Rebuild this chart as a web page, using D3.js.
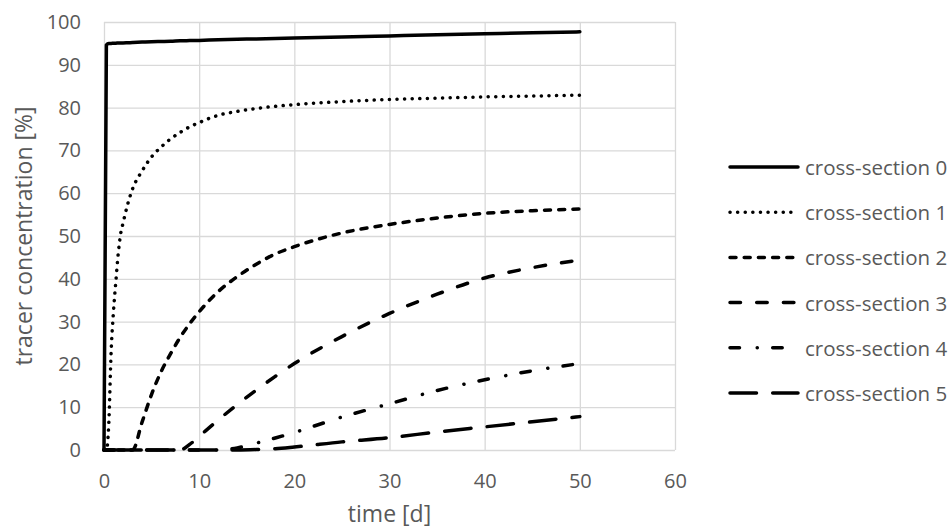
<!DOCTYPE html>
<html>
<head>
<meta charset="utf-8">
<script src="https://cdn.jsdelivr.net/npm/d3@7/dist/d3.min.js"></script>
<style>
body { margin: 0; background: #fff; }
text { font-family: "Open Sans", sans-serif; fill: #595959; }
</style>
</head>
<body>
<div id="chart"></div>
<script>
// time axis shared by all sections [d]
var times = [0, 0.25, 0.5, 0.75, 1, 1.25, 1.5, 1.75, 2, 2.5, 3, 4, 5, 6, 7, 8, 9, 10, 12, 14, 16, 18, 20, 25, 30, 35, 40, 45, 50];

// tracer concentration [%] per cross-section
var section0 = [0, 94.6, 95.0, 95.0, 95.05, 95.05, 95.1, 95.1, 95.1, 95.15, 95.2, 95.3, 95.4, 95.45, 95.5, 95.6, 95.65, 95.7, 95.85, 95.95, 96.05, 96.15, 96.25, 96.5, 96.75, 97.0, 97.25, 97.5, 97.7];
var section1 = [0, 0, 6, 23, 32.5, 39.5, 46, 50.5, 53, 57.5, 61, 65.2, 68.5, 70.8, 72.7, 74.2, 75.5, 76.5, 78.2, 79.1, 79.8, 80.3, 80.7, 81.4, 81.9, 82.2, 82.5, 82.7, 82.9];
var section2 = [0, 0, 0, 0, 0, 0, 0, 0, 0, 0, 0, 6.5, 13, 18.3, 22.5, 26.3, 29.5, 32.3, 37, 40.5, 43.4, 45.8, 47.5, 50.7, 52.7, 54.2, 55.3, 55.9, 56.3];
var section3 = [0, 0, 0, 0, 0, 0, 0, 0, 0, 0, 0, 0, 0, 0, 0, 0, 1.3, 3.2, 7, 10.6, 14, 17.2, 20.2, 26.5, 31.9, 36.4, 40.2, 42.6, 44.4];
var section4 = [0, 0, 0, 0, 0, 0, 0, 0, 0, 0, 0, 0, 0, 0, 0, 0, 0, 0, 0, 0.5, 1.6, 2.8, 4.1, 7.7, 10.8, 13.9, 16.4, 18.5, 20.2];
var section5 = [0, 0, 0, 0, 0, 0, 0, 0, 0, 0, 0, 0, 0, 0, 0, 0, 0, 0, 0, 0, 0.1, 0.3, 0.7, 1.9, 2.9, 4.2, 5.4, 6.6, 7.8];

var seriesNames = ["cross-section 0", "cross-section 1", "cross-section 2", "cross-section 3", "cross-section 4", "cross-section 5"];
var xTicks = [0, 10, 20, 30, 40, 50, 60];
var yTicks = [0, 10, 20, 30, 40, 50, 60, 70, 80, 90, 100];

// line styles, one per section (solid, round dot, dash, long dash, dash-dot, long dash)
var dashes = [null, "0.1 7.5", "6 8.2", "10.5 16.2", "9.5 17.7 0.1 15.4", "26.5 16.2"];

var allSections = [section0, section1, section2, section3, section4, section5];

var width = 952, height = 531;
var plotLeft = 104, plotRight = 675, plotTop = 22, plotBottom = 450;

var svg = d3.select("#chart").append("svg")
	.attr("width", width)
	.attr("height", height);

var x = d3.scaleLinear().domain([0, 60]).range([plotLeft, plotRight]);
var y = d3.scaleLinear().domain([0, 100]).range([plotBottom, plotTop]);

// gridlines + tick labels
var yAxis = svg.append("g")
	.attr("transform", "translate(" + plotLeft + ",0)")
	.call(d3.axisLeft(y).tickValues(yTicks).tickSize(-(plotRight - plotLeft)).tickPadding(23));

var xAxis = svg.append("g")
	.attr("transform", "translate(0," + plotBottom + ")")
	.call(d3.axisBottom(x).tickValues(xTicks).tickSize(-(plotBottom - plotTop)).tickPadding(24));

[xAxis, yAxis].forEach(function(ax) {
	ax.select(".domain").remove();
	ax.selectAll("line").attr("stroke", "#d9d9d9").attr("stroke-width", 1.3);
	ax.selectAll("text").attr("font-size", 20).style("fill", "#595959").attr("font-family", "Open Sans, sans-serif");
});

// the series
var line = d3.line()
	.x(function(d) { return x(d[0]); })
	.y(function(d) { return y(d[1]); })
	.curve(d3.curveMonotoneX);

for (var s = 0; s < allSections.length; s++) {
	var pts = times.map(function(t, i) { return [t, allSections[s][i]]; });
	var p = svg.append("path")
		.datum(pts)
		.attr("d", line)
		.attr("fill", "none")
		.attr("stroke", "#000")
		.attr("stroke-width", 3.5)
		.attr("stroke-linecap", "round")
		.attr("stroke-linejoin", "round");
	if (dashes[s]) p.attr("stroke-dasharray", dashes[s]);
}

// axis titles
svg.append("text")
	.attr("x", (x(0) + x(60)) / 2)
	.attr("y", 522)
	.attr("text-anchor", "middle")
	.attr("font-size", 23)
	.text("time [d]");

svg.append("text")
	.attr("transform", "translate(23," + ((plotTop + plotBottom) / 2) + ") rotate(-90)")
	.attr("text-anchor", "middle")
	.attr("dominant-baseline", "central")
	.attr("font-size", 23)
	.text("tracer concentration [%]");

// legend
var legend = svg.append("g").attr("transform", "translate(730,167)");
for (var k = 0; k < seriesNames.length; k++) {
	var row = legend.append("g").attr("transform", "translate(0," + (k * 45.2) + ")");
	var ln = row.append("line")
		.attr("x1", 0).attr("x2", 68)
		.attr("y1", 0).attr("y2", 0)
		.attr("stroke", "#000")
		.attr("stroke-width", 3.5)
		.attr("stroke-linecap", "round");
	if (dashes[k]) ln.attr("stroke-dasharray", dashes[k]);
	row.append("text")
		.attr("x", 75)
		.attr("y", 0)
		.attr("dominant-baseline", "central")
		.attr("font-size", 20.5)
		.text(seriesNames[k]);
}
</script>
</body>
</html>
